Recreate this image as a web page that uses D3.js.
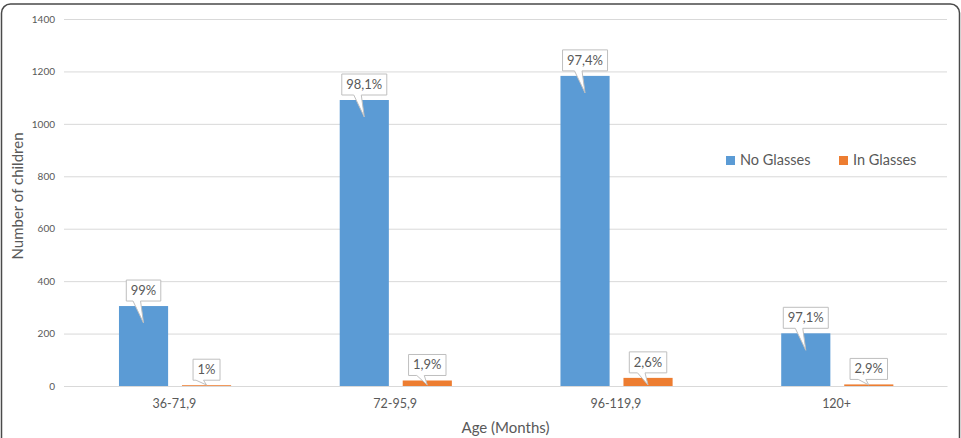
<!DOCTYPE html>
<html>
<head>
<meta charset="utf-8">
<script src="https://cdn.jsdelivr.net/npm/d3@7"></script>
<style>
  html, body { margin: 0; padding: 0; background: #fff; }
  svg { display: block; font-family: Lato, "Open Sans", sans-serif; }
</style>
</head>
<body>
<svg id="chart" width="961" height="438"></svg>
<script>
const categories = ["36-71,9", "72-95,9", "96-119,9", "120+"];
const seriesNames = ["No Glasses", "In Glasses"];
const noGlasses = [305, 1091, 1183, 201];
const inGlasses = [3, 21, 31, 6];
const noGlassesLabels = ["99%", "98,1%", "97,4%", "97,1%"];
const inGlassesLabels = ["1%", "1,9%", "2,6%", "2,9%"];
const yTicks = [0, 200, 400, 600, 800, 1000, 1200, 1400];
const colors = ["#5b9bd5", "#ed7d31"];

const svg = d3.select("#chart");
const W = 961, H = 438;
const m = { left: 64, right: 14, top: 19, bottom: 52 };

// border
svg.append("rect")
  .attr("x", 1.5).attr("y", 4).attr("width", 958).attr("height", 520)
  .attr("rx", 9).attr("ry", 9)
  .attr("fill", "none").attr("stroke", "#4a4a4a").attr("stroke-width", 1.5);

const x = d3.scaleBand().domain(categories).range([m.left, W - m.right]).paddingInner(0).paddingOuter(0);
const y = d3.scaleLinear().domain([0, 1400]).range([H - m.bottom, m.top]);
const xSub = d3.scaleBand().domain(seriesNames)
  .range([x.bandwidth() * 0.249, x.bandwidth() * 0.757]).paddingInner(0.22);

// grid
const yAxis = d3.axisLeft(y).tickValues(yTicks).tickSize(-(W - m.right - m.left)).tickPadding(9).tickFormat(d3.format("d"));
const gy = svg.append("g").attr("transform", `translate(${m.left},0)`).call(yAxis);
gy.select(".domain").remove();
gy.selectAll(".tick line").attr("stroke", "#d9d9d9").attr("stroke-width", 1);
gy.selectAll(".tick text").attr("fill", "#595959").attr("font-size", 10).attr("font-family", "Lato, sans-serif");

// x axis
const xAxis = d3.axisBottom(x).tickSize(0).tickPadding(13);
const gx = svg.append("g").attr("transform", `translate(0,${y(0)})`).call(xAxis);
gx.select(".domain").attr("stroke", "#d9d9d9");
gx.selectAll(".tick text").attr("fill", "#595959").attr("font-size", 12.5).attr("font-family", "Lato, sans-serif");

const data = categories.map((c, i) => ({
  cat: c,
  vals: [
    { s: seriesNames[0], v: noGlasses[i], lab: noGlassesLabels[i], col: colors[0] },
    { s: seriesNames[1], v: inGlasses[i], lab: inGlassesLabels[i], col: colors[1] }
  ]
}));

const groups = svg.append("g").selectAll("g").data(data).join("g")
  .attr("transform", d => `translate(${x(d.cat)},0)`);

groups.selectAll("rect").data(d => d.vals).join("rect")
  .attr("x", d => xSub(d.s)).attr("width", xSub.bandwidth())
  .attr("y", d => y(d.v)).attr("height", d => y(0) - y(d.v))
  .attr("fill", d => d.col);

// callouts
const callouts = groups.selectAll("g.callout").data(d => d.vals).join("g").attr("class", "callout");
callouts.each(function(d) {
  const g = d3.select(this);
  const cx = xSub(d.s) + xSub.bandwidth() / 2;
  const top = y(d.v);
  const t = g.append("text").text(d.lab)
    .attr("font-size", 13).attr("fill", "#595959").attr("text-anchor", "middle");
  const tw = t.node().getComputedTextLength();
  const bw = tw + 9, bh = 21;
  const by = top - 5 - bh;
  const bx = cx - bw / 2;
  const tip = Math.min(top + 17, y(0) - 1);
  const path = `M${bx},${by} H${bx + bw} V${by + bh} H${cx - 3} L${cx},${tip} L${cx - 10.5},${by + bh} H${bx} Z`;
  g.insert("path", "text").attr("d", path).attr("fill", "#fff").attr("stroke", "#bfbfbf").attr("stroke-width", 1);
  t.attr("x", cx).attr("y", by + bh / 2 + 4.5);
});

// legend
const legX = [726, 839];
const leg = svg.append("g").selectAll("g").data(seriesNames).join("g")
  .attr("transform", (d, i) => `translate(${legX[i]},156)`);
leg.append("rect").attr("width", 9).attr("height", 9).attr("fill", (d, i) => colors[i]);
leg.append("text").text(d => d).attr("x", 14).attr("y", 9).attr("font-size", 14.5).attr("fill", "#595959");

// axis titles
svg.append("text").text("Number of children")
  .attr("transform", `translate(23,196) rotate(-90)`)
  .attr("text-anchor", "middle").attr("font-size", 15).attr("fill", "#595959");
svg.append("text").text("Age (Months)")
  .attr("x", (m.left + W - m.right) / 2).attr("y", 433)
  .attr("text-anchor", "middle").attr("font-size", 15).attr("fill", "#595959");
</script>
</body>
</html>
